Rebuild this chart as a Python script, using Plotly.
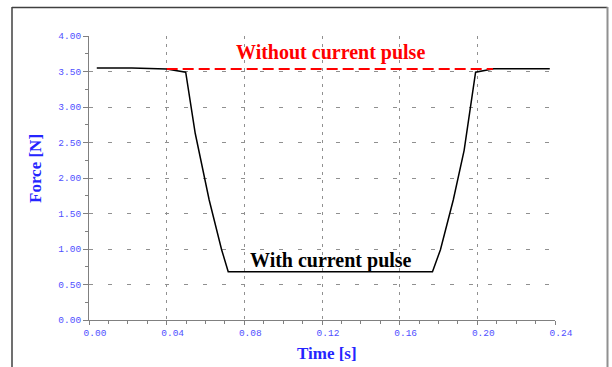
import plotly.graph_objects as go

# Data
t_with = [0.004, 0.022, 0.040, 0.0498, 0.0547, 0.0619, 0.0683, 0.0717,
          0.1769, 0.1810, 0.1876, 0.1932, 0.1991, 0.2085, 0.2373]
f_with = [3.55, 3.55, 3.535, 3.49, 2.63, 1.69, 0.99, 0.68,
          0.68, 0.99, 1.69, 2.39, 3.49, 3.54, 3.54]
t_without = [0.040, 0.208]
f_without = [3.535, 3.535]

x_ticks = [0.00, 0.04, 0.08, 0.12, 0.16, 0.20, 0.24]
x_ticklabels = ["0.00", "0.04", "0.08", "0.12", "0.16", "0.20", "0.24"]
y_ticks = [0.0, 0.5, 1.0, 1.5, 2.0, 2.5, 3.0, 3.5, 4.0]
y_ticklabels = ["0.00", "0.50", "1.00", "1.50", "2.00", "2.50", "3.00", "3.50", "4.00"]

W, H = 612, 367
L, R, T, B = 89, 57, 36, 47
pw, ph = W - L - R, H - T - B

def px(x):
    return (x - L) / pw

def py(y):
    return (H - B - y) / ph

fig = go.Figure()
fig.add_trace(go.Scatter(x=t_with, y=f_with, mode="lines",
                         line=dict(color="black", width=1.5), showlegend=False))
fig.add_trace(go.Scatter(x=t_without, y=f_without, mode="lines",
                         line=dict(color="#ff0000", width=2, dash="11px,5px"),
                         showlegend=False))

tickfont = dict(family="Liberation Mono, Courier New, monospace", size=9.5, color="#5050ff")
fig.update_xaxes(range=[0, 0.24], tickvals=x_ticks, ticktext=x_ticklabels,
                 showline=True, linecolor="#808080", linewidth=1,
                 ticks="outside", ticklen=4, tickcolor="#808080",
                 tickfont=tickfont, ticklabelshift=6,
                 showgrid=True, gridcolor="#909090", gridwidth=1, griddash="3px,5px",
                 minor=dict(dtick=0.01, ticks="outside", ticklen=3, tickcolor="#808080", showgrid=False),
                 zeroline=False, fixedrange=True)
fig.update_yaxes(range=[0, 4], tickvals=y_ticks, ticktext=y_ticklabels,
                 showline=True, linecolor="#808080", linewidth=1,
                 ticks="outside", ticklen=5, tickcolor="#808080",
                 tickfont=tickfont,
                 showgrid=True, gridcolor="#909090", gridwidth=1, griddash="4px,15px",
                 minor=dict(dtick=0.25, ticks="outside", ticklen=3, tickcolor="#808080", showgrid=False),
                 zeroline=False, fixedrange=True)

serif = "Liberation Serif, Times New Roman, serif"
def label(x, y, text, size, color, angle=0):
    fig.add_annotation(x=px(x), y=py(y), xref="paper", yref="paper", showarrow=False,
                       xanchor="center", yanchor="middle", text=text, textangle=angle,
                       font=dict(family=serif, size=size, color=color))

label(330, 52, "<b>Without current pulse</b>", 20, "#ff0000")
label(331, 260, "<b>With current pulse</b>", 20, "black")
label(35, 169, "<b>Force [N]</b>", 17, "#2525ff", -90)
label(327, 353, "<b>Time [s]</b>", 17, "#2525ff")

# Outer frame (left, top, right)
fig.add_shape(type="line", xref="paper", yref="paper", x0=px(12), x1=px(12), y0=py(7), y1=py(372),
              line=dict(color="#404040", width=1.5))
fig.add_shape(type="line", xref="paper", yref="paper", x0=px(12), x1=px(607.5), y0=py(7.5), y1=py(7.5),
              line=dict(color="#404040", width=1.5))
fig.add_shape(type="line", xref="paper", yref="paper", x0=px(607.5), x1=px(607.5), y0=py(7), y1=py(372),
              line=dict(color="#909090", width=2))

fig.update_layout(width=W, height=H, margin=dict(l=L, r=R, t=T, b=B),
                  paper_bgcolor="white", plot_bgcolor="white")

fig.write_html("out.html")
